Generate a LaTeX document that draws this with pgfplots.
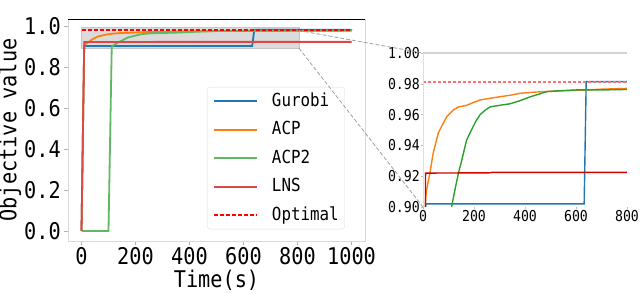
\documentclass[border=0pt]{standalone}
\usepackage{fontspec}
\setmainfont{DejaVu Sans Mono}[FakeStretch=0.88]
\newfontfamily\dvs{DejaVu Sans}
\usepackage{pgfplots}
\usepackage{pgfplotstable}
\pgfplotsset{compat=1.18}
\definecolor{tabblue}{HTML}{1F77B4}
\definecolor{taborange}{HTML}{FF7F0E}
\definecolor{tabgreen}{HTML}{2CA02C}
\definecolor{tabred}{HTML}{D62728}
\definecolor{optred}{HTML}{FF0000}
\definecolor{optpink}{HTML}{FF7070}

\pgfplotstableread{
x y
0 0
10 0.902
632 0.902
640 0.9814
1000 0.9814
}\gurobi
\pgfplotstableread{
x y
0 0
10 0.905
14 0.911
27 0.922
40 0.935
60 0.948
75 0.953
93 0.9586
119 0.963
140 0.965
171 0.966
200 0.968
224 0.9695
260 0.9705
302 0.9716
340 0.9725
380 0.9738
430 0.9745
485 0.975
560 0.9755
642 0.976
700 0.9765
800 0.977
1000 0.9775
}\acp
\pgfplotstableread{
x y
0 0
100 0
112 0.900
125 0.911
139 0.922
150 0.929
171 0.9435
190 0.950
205 0.955
224 0.960
245 0.963
263 0.965
300 0.966
341 0.967
380 0.969
420 0.9715
459 0.9735
485 0.9749
540 0.9755
600 0.976
700 0.976
800 0.9763
1000 0.977
}\acptwo
\pgfplotstableread{
x y
0 0
10 0.922
265 0.9222
270 0.9225
1000 0.9225
}\lns
\pgfplotstableread{
x y
0 0.9814
1000 0.9814
}\optimal

\begin{document}
\begin{tikzpicture}[x=1pt,y=1pt]
\path[use as bounding box] (0,0) rectangle (640,292);
\begin{axis}[
  at={(68pt,51pt)}, anchor=south west,
  scale only axis, width=297pt, height=222pt,
  xmin=-50, xmax=1050, ymin=-0.049, ymax=1.034,
  axis line style={draw=gray!30},
  xtick={0,200,400,600,800,1000},
  ytick={0,0.2,0.4,0.6,0.8,1.0},
  xtick pos=left, ytick pos=left,
  tick align=outside, major tick length=4pt,
  tick style={gray!60, line width=0.6pt},
  /pgf/number format/assume math mode=true,
  /pgf/number format/1000 sep={},
  yticklabel style={/pgf/number format/fixed,/pgf/number format/fixed zerofill,/pgf/number format/precision=1, inner xsep=3pt},
  xticklabel style={inner ysep=2pt, text depth=0pt},
  tick label style={font=\fontsize{23}{23}\selectfont},
  label style={font=\fontsize{23}{23}\selectfont},
  xlabel={Time(s)}, ylabel={Objective value},
  xlabel style={at={(rel axis cs:0.5,0)}, anchor=base, yshift=-46pt},
  ylabel style={inner sep=0pt},
  legend cell align=left,
  legend image code/.code={\draw[#1] (0pt,0pt) -- (43pt,0pt);},
  legend style={at={(axis description cs:0.468,0.694)}, anchor=north west,
    draw=gray!25, rounded corners=3pt, fill=white,
    font=\fontsize{18}{18}\selectfont, inner sep=6pt, row sep=12.5pt, column sep=14pt,
    nodes={inner sep=0pt, text height=13pt, text depth=3pt}},
]
\fill[gray!28, draw=gray!45] (axis cs:0,0.892) rectangle (axis cs:805,0.994);
\addplot[color=tabblue, line width=1.8pt] table {\gurobi};
\addlegendentry{Gurobi}
\addplot[color=taborange, line width=1.8pt] table {\acp};
\addlegendentry{ACP}
\addplot[color=tabgreen!75!white, line width=1.8pt] table {\acptwo};
\addlegendentry{ACP2}
\addplot[color=tabred!85!white, line width=1.8pt] table {\lns};
\addlegendentry{LNS}
\addplot[color=optred, line width=1.8pt, dash pattern=on 4pt off 2pt] table {\optimal};
\addlegendentry{Optimal}
\draw[black, line width=0.8pt] (rel axis cs:0,1) -- (rel axis cs:1,1);
\node[anchor=south west, font=\dvs\fontsize{22}{22}\selectfont, inner sep=0pt, xshift=2pt, yshift=2pt] at (rel axis cs:0,1) {1e6};
\coordinate (rTR) at (axis cs:805,0.978);
\coordinate (rBR) at (axis cs:805,0.892);
\end{axis}

\begin{axis}[
  at={(423pt,85pt)}, anchor=south west,
  scale only axis, width=204pt, height=154pt,
  xmin=0, xmax=800, ymin=0.9, ymax=1.0,
  axis line style={draw=none},
  xtick={0,200,400,600,800},
  ytick={0.90,0.92,0.94,0.96,0.98,1.00},
  xtick pos=left, ytick pos=left,
  tick align=outside, major tick length=2pt,
  tick style={gray!50, line width=0.5pt},
  /pgf/number format/assume math mode=true,
  yticklabel style={/pgf/number format/fixed,/pgf/number format/fixed zerofill,/pgf/number format/precision=2, inner xsep=1pt},
  xticklabel style={inner ysep=1pt},
  tick label style={font=\fontsize{15}{15}\selectfont},
]
\addplot[color=tabblue, line width=1.4pt] table {\gurobi};
\addplot[color=taborange, line width=1.4pt] table {\acp};
\addplot[color=tabgreen, line width=1.4pt] table {\acptwo};
\addplot[color=optred!85!black, line width=1.4pt] table {\lns};
\addplot[color=optpink, line width=1.8pt, dash pattern=on 3pt off 2pt] table {\optimal};
\draw[gray!35, line width=1.2pt] (rel axis cs:0,1) -- (rel axis cs:1,1);
\draw[gray!25, line width=0.8pt] (rel axis cs:0,0) -- (rel axis cs:0,1);
\draw[gray!25, line width=0.8pt] (rel axis cs:0,0) -- (rel axis cs:1,0);
\node[anchor=south west, font=\dvs\fontsize{14}{14}\selectfont, inner sep=0pt, xshift=2pt, yshift=1pt] at (rel axis cs:0,1) {1e6};
\coordinate (iTL) at (rel axis cs:0,1);
\coordinate (iBL) at (rel axis cs:0,0);
\end{axis}
\draw[gray!75, line width=0.8pt, dash pattern=on 4pt off 2pt] (rTR) -- (iTL);
\draw[gray!75, line width=0.8pt, dash pattern=on 4pt off 2pt] (rBR) -- (iBL);
\end{tikzpicture}
\end{document}
